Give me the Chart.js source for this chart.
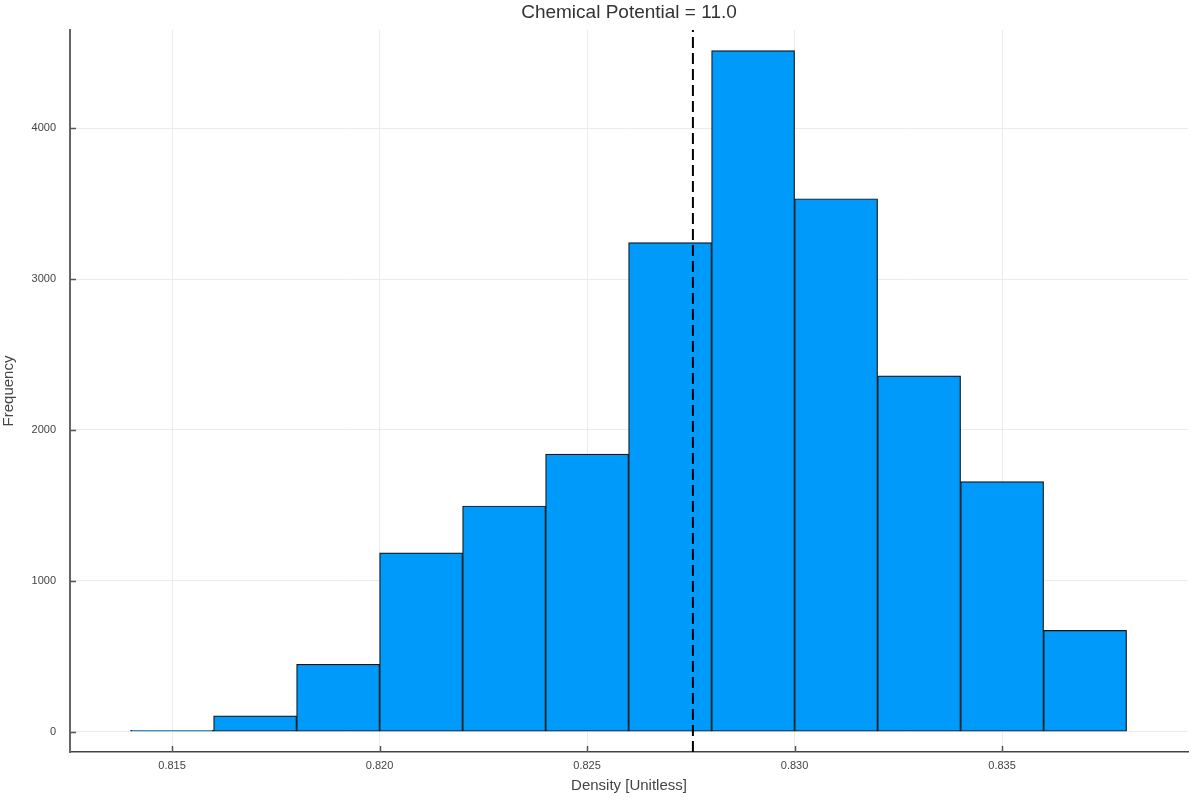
<!DOCTYPE html>
<html>
<head>
<meta charset="utf-8">
<title>Chemical Potential = 11.0</title>
<script src="https://cdn.jsdelivr.net/npm/chart.js@4.4.1/dist/chart.umd.min.js"></script>
<style>
  html, body { margin: 0; padding: 0; background: #fff; }
  #wrap { width: 1200px; height: 800px; position: relative; }
</style>
</head>
<body>
<div id="wrap"><canvas id="histChart"></canvas></div>
<script>
// Histogram data
const binEdges = [0.814, 0.816, 0.818, 0.820, 0.822, 0.824, 0.826, 0.828, 0.830, 0.832, 0.834, 0.836, 0.838];
const counts = [9, 106, 447, 1186, 1496, 1840, 3241, 4513, 3532, 2359, 1657, 672];
const meanDensity = 0.82755;
const xTicks = [0.815, 0.820, 0.825, 0.830, 0.835];
const yTicks = [0, 1000, 2000, 3000, 4000];

const xMin = 0.81254, xMax = 0.83948;
const yMin = -134, yMax = 4650;

const FONT = "'Liberation Sans', Helvetica, Arial, sans-serif";

document.addEventListener('DOMContentLoaded', function() {
    createHistogram();
});

function createHistogram() {
    const ctx = document.getElementById('histChart');

    const barData = counts.map((c, i) => ({
        x: (binEdges[i] + binEdges[i + 1]) / 2,
        y: c
    }));

    // short tick marks pointing into the plot, like the original
    const innerTicks = {
        id: 'innerTicks',
        afterDatasetsDraw(chart) {
            const c = chart.ctx;
            const xs = chart.scales.x, ys = chart.scales.y;
            const area = chart.chartArea;
            c.save();
            c.strokeStyle = '#555';
            c.lineWidth = 1.5;
            c.beginPath();
            xTicks.forEach(v => {
                const px = Math.round(xs.getPixelForValue(v)) + 0.5;
                c.moveTo(px, area.bottom);
                c.lineTo(px, area.bottom - 6);
            });
            yTicks.forEach(v => {
                const py = Math.round(ys.getPixelForValue(v)) + 0.5;
                c.moveTo(area.left, py);
                c.lineTo(area.left + 6, py);
            });
            c.stroke();
            c.restore();
        }
    };

    new Chart(ctx, {
        type: 'bar',
        data: {
            datasets: [
                {
                    type: 'line',
                    data: [{x: meanDensity, y: yMin}, {x: meanDensity, y: yMax}],
                    borderColor: '#000',
                    borderWidth: 2,
                    borderDash: [11, 5],
                    pointRadius: 0,
                    fill: false,
                    order: 0
                },
                {
                    type: 'bar',
                    data: barData,
                    backgroundColor: '#009AFA',
                    borderColor: '#111',
                    borderWidth: 1.2,
                    borderSkipped: false,
                    barPercentage: 1.0,
                    categoryPercentage: 1.0,
                    order: 1
                }
            ]
        },
        options: {
            responsive: true,
            maintainAspectRatio: false,
            animation: false,
            layout: { padding: { left: 0, right: 12, top: 0, bottom: 0 } },
            plugins: {
                legend: { display: false },
                tooltip: { enabled: false },
                title: { display: false }
            },
            scales: {
                x: {
                    type: 'linear',
                    position: 'bottom',
                    offset: false,
                    min: xMin,
                    max: xMax,
                    afterBuildTicks: s => { s.ticks = xTicks.map(v => ({ value: v })); },
                    afterFit: s => { s.height = 48; },
                    grid: { color: '#ebebeb', lineWidth: 1, drawTicks: false, offset: false },
                    border: { display: true, color: '#444', width: 1.5 },
                    ticks: {
                        padding: 7,
                        color: '#444',
                        font: { family: FONT, size: 11 },
                        callback: v => v.toFixed(3)
                    },
                    title: {
                        display: true,
                        text: 'Density [Unitless]',
                        color: '#444',
                        font: { family: FONT, size: 15 },
                        padding: { top: 0, bottom: 5 }
                    }
                },
                xTop: {
                    type: 'linear',
                    position: 'top',
                    offset: false,
                    min: xMin,
                    max: xMax,
                    afterFit: s => { s.height = 30; },
                    grid: { display: false, drawTicks: false },
                    border: { display: false },
                    ticks: { display: false },
                    title: {
                        display: true,
                        text: 'Chemical Potential = 11.0',
                        color: '#333',
                        font: { family: FONT, size: 19 },
                        padding: { top: 1, bottom: 0 }
                    }
                },
                y: {
                    type: 'linear',
                    min: yMin,
                    max: yMax,
                    afterBuildTicks: s => { s.ticks = yTicks.map(v => ({ value: v })); },
                    afterFit: s => { s.width = 70; },
                    grid: { color: '#ebebeb', lineWidth: 1, drawTicks: false },
                    border: { display: true, color: '#666', width: 2 },
                    ticks: {
                        padding: 14,
                        color: '#444',
                        font: { family: FONT, size: 11 },
                        callback: v => String(v)
                    },
                    title: {
                        display: true,
                        text: 'Frequency',
                        color: '#444',
                        font: { family: FONT, size: 15 },
                        padding: { top: 0, bottom: 0 }
                    }
                }
            }
        },
        plugins: [innerTicks]
    });
}
</script>
</body>
</html>
